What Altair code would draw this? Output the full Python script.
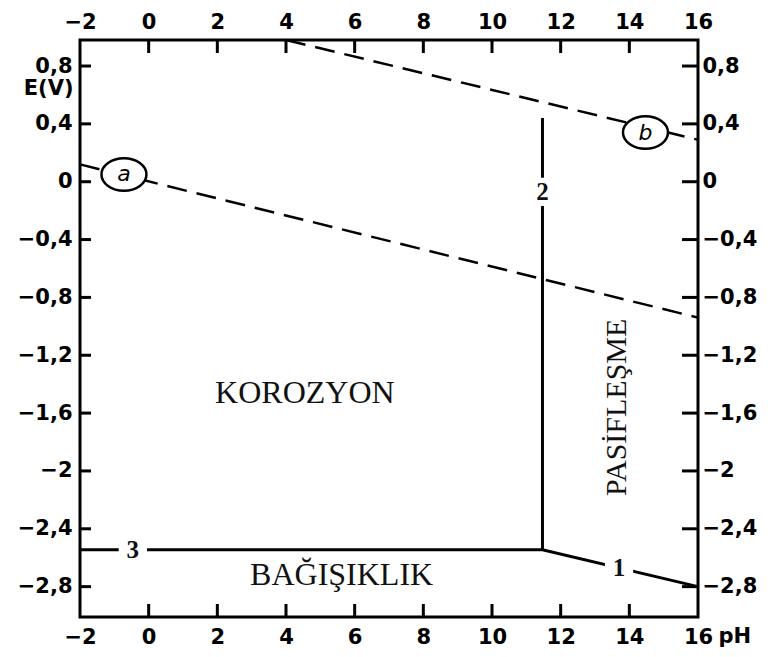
import altair as alt
import pandas as pd

# Axis tick positions
ph_ticks = [-2, 0, 2, 4, 6, 8, 10, 12, 14, 16]
ph_inner = [0, 2, 4, 6, 8, 10, 12, 14]
e_ticks = [0.8, 0.4, 0.0, -0.4, -0.8, -1.2, -1.6, -2.0, -2.4, -2.8]

# Water stability lines (dashed)
dash_id = ["a", "a", "b", "b"]
dash_ph = [-2.0, 16.0, 4.0, 16.0]
dash_e = [0.12, -0.94, 0.98, 0.29]

# Magnesium phase boundaries (solid)
solid_id = ["2", "2", "31", "31", "31"]
solid_k = [0, 1, 0, 1, 2]
solid_ph = [11.47, 11.47, -2.0, 11.47, 16.0]
solid_e = [0.44, -2.545, -2.545, -2.545, -2.80]

# Circled line names
circ_name = ["a", "b"]
circ_ph = [-0.72, 14.47]
circ_e = [0.05, 0.34]

# Numbered boundary names
num_name = ["2", "3", "1"]
num_ph = [11.47, -0.46, 13.7]
num_e = [-0.07, -2.545, -2.67]

# Region names
reg_name = ["KOROZYON", "BAĞIŞIKLIK"]
reg_ph = [4.55, 5.62]
reg_e = [-1.46, -2.72]
vert_name = ["PASİFLEŞME"]
vert_ph = [13.64]
vert_e = [-1.56]

W, H = 618, 577
xs = alt.Scale(domain=[-2, 16], nice=False, zero=False)
ys = alt.Scale(domain=[-3.01, 0.98], nice=False, zero=False)

FONT = "DejaVu Sans"
FS = 21
y_fmt = "replace(format(datum.value, '.1~f'), '.', ',')"
x_fmt = "format(datum.value, 'd')"

# inward tick lengths (pixels) on each side of the frame
T_X, T_L, T_R = 13, 11, 16
TICK_W = 3


def lab_axis(orient, values, pad, expr, **kw):
    return alt.Axis(orient=orient, values=values, labelExpr=expr, ticks=False,
                    domain=False, grid=False, labelPadding=pad, labelFont=FONT,
                    labelFontWeight="bold", labelFontSize=FS, labelColor="black",
                    labelFlush=False, labelOverlap=False, **kw)


dash_df = pd.DataFrame({"id": dash_id, "ph": dash_ph, "e": dash_e})
solid_df = pd.DataFrame({"id": solid_id, "k": solid_k, "ph": solid_ph, "e": solid_e})
circ_df = pd.DataFrame({"name": circ_name, "ph": circ_ph, "e": circ_e})
num_df = pd.DataFrame({"name": num_name, "ph": num_ph, "e": num_e})
reg_df = pd.DataFrame({"name": reg_name, "ph": reg_ph, "e": reg_e})
vert_df = pd.DataFrame({"name": vert_name, "ph": vert_ph, "e": vert_e})
xtick_df = pd.DataFrame({"ph": ph_inner})
ytick_df = pd.DataFrame({"e": e_ticks})

dashed = alt.Chart(dash_df).mark_line(
    color="black", strokeWidth=2.5, strokeDash=[20, 10]
).encode(
    x=alt.X("ph:Q", scale=xs, axis=lab_axis(
        "bottom", ph_ticks, 9, x_fmt,
        title="pH", titleAngle=0, titleAlign="left",
        titleBaseline="alphabetic", titleX=638, titleY=25, titleFont=FONT,
        titleFontSize=FS, titleFontWeight="bold", titleColor="black")),
    y=alt.Y("e:Q", scale=ys, axis=lab_axis(
        "left", e_ticks, 8, y_fmt,
        title="E(V)", titleAngle=0, titleAlign="right",
        titleBaseline="middle", titleX=-7, titleY=48, titleFont=FONT,
        titleFontSize=FS, titleFontWeight="bold", titleColor="black")),
    detail="id:N",
)

solid = alt.Chart(solid_df).mark_line(color="black", strokeWidth=3).encode(
    x=alt.X("ph:Q", scale=xs, axis=lab_axis("top", ph_ticks, 8, x_fmt, title=None)),
    y=alt.Y("e:Q", scale=ys, axis=lab_axis("right", e_ticks, 4, y_fmt, title=None)),
    detail="id:N",
    order="k:Q",
)

# inward tick marks along the frame
tick_bottom = alt.Chart(xtick_df).mark_rule(color="#000000", strokeWidth=TICK_W).encode(
    x=alt.X("ph:Q", scale=xs, axis=None),
    y=alt.value(H), y2=alt.value(H - T_X),
)
tick_top = alt.Chart(xtick_df).mark_rule(color="#000000", strokeWidth=TICK_W).encode(
    x=alt.X("ph:Q", scale=xs, axis=None),
    y=alt.value(0), y2=alt.value(T_X),
)
tick_left = alt.Chart(ytick_df).mark_rule(color="#000000", strokeWidth=TICK_W).encode(
    y=alt.Y("e:Q", scale=ys, axis=None),
    x=alt.value(0), x2=alt.value(T_L),
)
tick_right = alt.Chart(ytick_df).mark_rule(color="#000000", strokeWidth=TICK_W).encode(
    y=alt.Y("e:Q", scale=ys, axis=None),
    x=alt.value(W - T_R), x2=alt.value(W),
)

knock = alt.Chart(num_df).mark_point(
    shape="square", filled=True, color="white", opacity=1, size=800
).encode(
    x=alt.X("ph:Q", scale=xs, axis=None),
    y=alt.Y("e:Q", scale=ys, axis=None),
)

ellipse = "M -1 0 A 1 0.72 0 1 1 1 0 A 1 0.72 0 1 1 -1 0 Z"
circles = alt.Chart(circ_df).mark_point(
    shape=ellipse, filled=False, fill="white", fillOpacity=1, stroke="black",
    strokeWidth=2.5, opacity=1, size=2025
).encode(
    x=alt.X("ph:Q", scale=xs, axis=None),
    y=alt.Y("e:Q", scale=ys, axis=None),
)

circ_text = alt.Chart(circ_df).mark_text(
    font=FONT, fontSize=22, fontStyle="italic", color="black", baseline="middle"
).encode(
    x=alt.X("ph:Q", scale=xs, axis=None),
    y=alt.Y("e:Q", scale=ys, axis=None),
    text="name:N",
)

num_text = alt.Chart(num_df).mark_text(
    font="Liberation Serif", fontSize=25, fontWeight="bold", color="#111111",
    baseline="middle"
).encode(
    x=alt.X("ph:Q", scale=xs, axis=None),
    y=alt.Y("e:Q", scale=ys, axis=None),
    text="name:N",
)

reg_text = alt.Chart(reg_df).mark_text(
    font="Liberation Serif", fontSize=32, color="#111111", baseline="middle"
).encode(
    x=alt.X("ph:Q", scale=xs, axis=None),
    y=alt.Y("e:Q", scale=ys, axis=None),
    text="name:N",
)

vert_text = alt.Chart(vert_df).mark_text(
    font="Liberation Serif", fontSize=30, color="#111111", baseline="middle",
    angle=270
).encode(
    x=alt.X("ph:Q", scale=xs, axis=None),
    y=alt.Y("e:Q", scale=ys, axis=None),
    text="name:N",
)

chart = alt.layer(
    dashed, solid, tick_bottom, tick_top, tick_left, tick_right,
    knock, circles, circ_text, num_text, reg_text, vert_text
).resolve_axis(
    x="independent", y="independent"
).properties(
    width=W,
    height=H,
    autosize=alt.AutoSizeParams(type="none"),
    padding={"left": 80, "top": 40, "right": 73, "bottom": 40},
    background="white",
).configure_view(stroke="black", strokeWidth=3)

chart.save("out.html", embed_options={"renderer": "svg", "actions": False})
